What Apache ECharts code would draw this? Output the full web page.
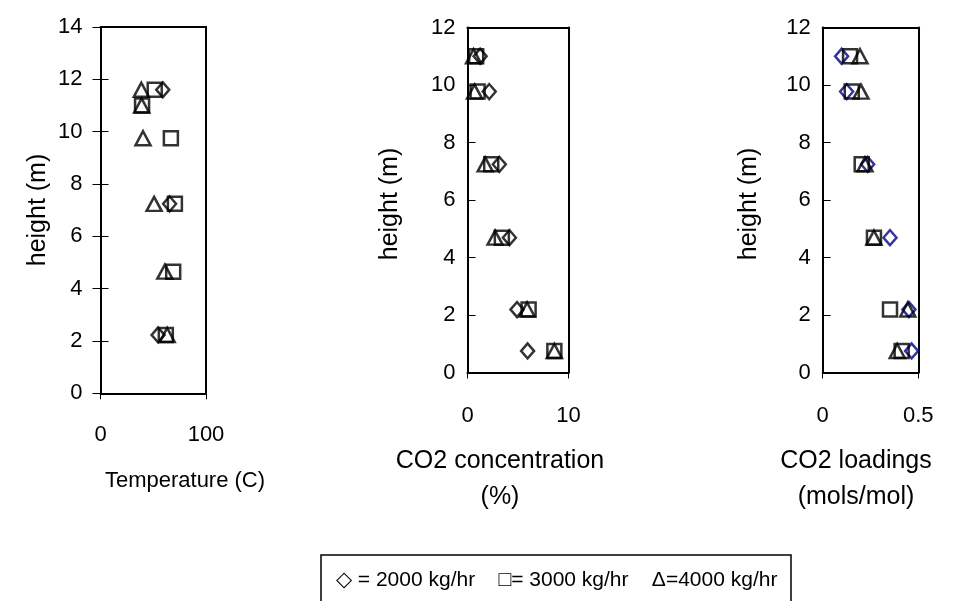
<!DOCTYPE html>
<html><head><meta charset="utf-8">
<script src="https://cdn.jsdelivr.net/npm/echarts@6/dist/echarts.min.js"></script>
<style>html,body{margin:0;padding:0;background:#fff}#c{width:960px;height:601px}</style>
</head><body><div id="c"></div>
<script>
// Panel 1: temperature (null = no visible point)
const heightsT = [11.6, 11.0, 9.75, 7.24, 4.65, 2.23];
const temp2000 = [59, null, null, 65.5, null, 54.6];
const temp3000 = [51.4, 39.4, 66.7, 70.5, 68.9, 61.9];
const temp4000 = [38.7, 39, 40.3, 50.8, 61, 63.2];
// Panel 2: CO2 concentration (%)
const heightsC = [11.0, 9.77, 7.24, 4.69, 2.19, 0.75];
const conc2000 = [1.25, 2.15, 3.15, 4.15, 4.9, 5.95];
const conc3000 = [0.86, 1.0, 2.35, 3.4, 6.05, 8.6];
const conc4000 = [0.6, 0.7, 1.75, 2.73, 5.9, 8.6];
// Panel 3: CO2 loadings (mols/mol)
const load2000 = [0.099, 0.125, 0.235, 0.352, 0.451, 0.465];
const load3000 = [0.143, 0.152, 0.204, 0.268, 0.352, 0.413];
const load4000 = [0.195, 0.2, 0.221, 0.268, 0.445, 0.39];
// Axis ranges / tick labels
const xRanges = [[0, 100, 100], [0, 10, 10], [0, 0.5, 0.5]];
const yRanges = [[0, 14, 2], [0, 12, 2], [0, 12, 2]];
const legendText = '\u25C7 = 2000 kg/hr    \u25A1= 3000 kg/hr    \u0394=4000 kg/hr';

const FONT = '"Liberation Sans", Arial, sans-serif';
const FS = 22;
const chart = echarts.init(document.getElementById('c'));

const grids = [
  {left: 100.5, top: 27, width: 105.5, height: 366.3},
  {left: 467.5, top: 27.5, width: 101, height: 345},
  {left: 822.7, top: 27.5, width: 95.6, height: 345}
];
const yMargins = [18, 12, 12];
const xMargins = [31, 32, 32];

const xAxis = [], yAxis = [];
grids.forEach((g, i) => {
  xAxis.push({type: 'value', gridIndex: i, min: xRanges[i][0], max: xRanges[i][1], interval: xRanges[i][2],
    splitLine: {show: false},
    axisLine: {show: true, onZero: false, lineStyle: {color: '#000', width: 2}},
    axisTick: {show: true, inside: false, length: 6, lineStyle: {color: '#000', width: 1}},
    axisLabel: {color: '#000', fontFamily: FONT, fontSize: FS, margin: xMargins[i]}
  });
  xAxis.push({type: 'value', gridIndex: i, position: 'top', min: xRanges[i][0], max: xRanges[i][1],
    splitLine: {show: false}, axisTick: {show: false}, axisLabel: {show: false},
    axisLine: {show: true, onZero: false, lineStyle: {color: '#000', width: 2}}
  });
  yAxis.push({type: 'value', gridIndex: i, min: yRanges[i][0], max: yRanges[i][1], interval: yRanges[i][2],
    splitLine: {show: false},
    axisLine: {show: true, onZero: false, lineStyle: {color: '#000', width: 2}},
    axisTick: {show: true, inside: i > 0, length: 8, lineStyle: {color: '#000', width: 1}},
    axisLabel: {color: '#000', fontFamily: FONT, fontSize: FS, margin: yMargins[i]}
  });
  yAxis.push({type: 'value', gridIndex: i, position: 'right', min: yRanges[i][0], max: yRanges[i][1],
    splitLine: {show: false}, axisTick: {show: false}, axisLabel: {show: false},
    axisLine: {show: true, onZero: false, lineStyle: {color: '#000', width: 2}}
  });
});
// inner tick half for panel 1 (ticks cross the axis)
yAxis.push({type: 'value', gridIndex: 0, position: 'left', min: 0, max: 14, interval: 2,
  splitLine: {show: false}, axisLine: {show: false, onZero: false}, axisLabel: {show: false},
  axisTick: {show: true, inside: true, length: 8, lineStyle: {color: '#000', width: 1}}
});

function pairs(xs, ys) {
  return xs.map((v, k) => [v, ys[k]]).filter(p => p[0] !== null);
}
function ser(i, xs, ys, symbol, size, color) {
  return {type: 'scatter', xAxisIndex: i * 2, yAxisIndex: i * 2, data: pairs(xs, ys),
    symbol: symbol, symbolSize: size, clip: false, silent: true,
    itemStyle: {color: 'rgba(0,0,0,0)', borderColor: color, borderWidth: 2.5}};
}
const dia = [13, 15], sq = 14, tri = [15, 14];
const series = [
  ser(0, temp2000, heightsT, 'diamond', dia, '#000'),
  ser(0, temp3000, heightsT, 'rect', sq, '#000'),
  ser(0, temp4000, heightsT, 'triangle', tri, '#000'),
  ser(1, conc2000, heightsC, 'diamond', dia, '#000'),
  ser(1, conc3000, heightsC, 'rect', sq, '#000'),
  ser(1, conc4000, heightsC, 'triangle', tri, '#000'),
  ser(2, load2000, heightsC, 'diamond', dia, '#00008B'),
  ser(2, load3000, heightsC, 'rect', sq, '#000'),
  ser(2, load4000, heightsC, 'triangle', tri, '#000')
];

function txt(x, y, s, fs, rot) {
  return {type: 'text', x: x, y: y, rotation: rot || 0,
    style: {text: s, fill: '#000', font: fs + 'px ' + FONT, textAlign: 'center', textVerticalAlign: 'middle'}};
}
const graphic = [
  txt(38, 210, 'height (m)', 25, Math.PI / 2),
  txt(390, 204, 'height (m)', 25, Math.PI / 2),
  txt(749, 204, 'height (m)', 25, Math.PI / 2),
  txt(185, 481, 'Temperature (C)', 22),
  txt(500, 461, 'CO2 concentration', 25),
  txt(500, 497, '(%)', 25),
  txt(856, 461, 'CO2 loadings', 25),
  txt(856, 497, '(mols/mol)', 25),
  {type: 'rect', shape: {x: 321, y: 555, width: 470, height: 60},
    style: {fill: '#fff', stroke: '#000', lineWidth: 1.5}},
  {type: 'text', x: 336, y: 580,
    style: {text: legendText, fill: '#000', font: '21px ' + FONT, textAlign: 'left', textVerticalAlign: 'middle'}}
];

chart.setOption({
  animation: false,
  backgroundColor: '#fff',
  grid: grids.map(g => Object.assign({containLabel: false}, g)),
  xAxis: xAxis, yAxis: yAxis, series: series, graphic: graphic
});
</script></body></html>
